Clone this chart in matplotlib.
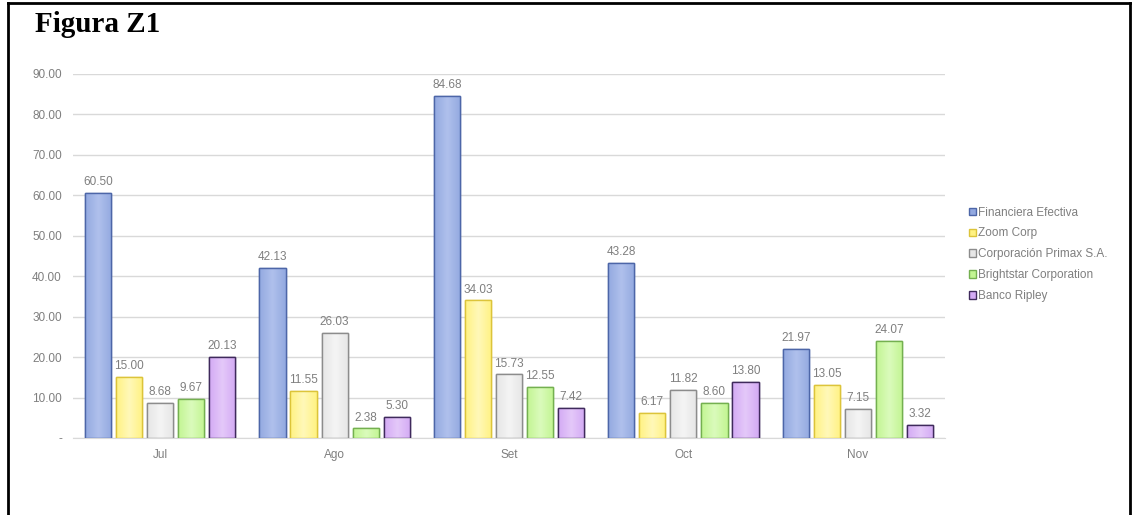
import matplotlib
matplotlib.use("Agg")
import matplotlib.pyplot as plt
from matplotlib import font_manager
from matplotlib.lines import Line2D
from matplotlib.colors import to_rgb
import numpy as np

months = ["Jul", "Ago", "Set", "Oct", "Nov"]
series_names = ["Financiera Efectiva", "Zoom Corp", "Corporación Primax S.A.",
                "Brightstar Corporation", "Banco Ripley"]
financiera = [60.50, 42.13, 84.68, 43.28, 21.97]
zoom_corp = [15.00, 11.55, 34.03, 6.17, 13.05]
primax = [8.68, 26.03, 15.73, 11.82, 7.15]
brightstar = [9.67, 2.38, 12.55, 8.60, 24.07]
ripley = [20.13, 5.30, 7.42, 13.80, 3.32]
y_ticks = [0, 10, 20, 30, 40, 50, 60, 70, 80, 90]

series = [financiera, zoom_corp, primax, brightstar, ripley]
fills = ["#93A9E0", "#FFF282", "#E6E6E6", "#C2F592", "#D3AAF4"]
lights = ["#AFC0EC", "#FFF8B8", "#F4F4F4", "#DAFBBB", "#E4C8F9"]
edges = ["#4D66A8", "#DCC43A", "#8C8C8C", "#74B050", "#3F2A5C"]

names = {f.name for f in font_manager.fontManager.ttflist}
narrow = "Liberation Sans Narrow" if "Liberation Sans Narrow" in names else "Liberation Sans"
grey = "#7F7F7F"

fig = plt.figure(figsize=(11.35, 5.15), dpi=100)
ax = fig.add_axes([73/1135, 1-438/515, (945-73)/1135, (438-74)/515])

x = np.arange(len(months))
step = 0.178
width = 0.15
prof = np.concatenate([np.linspace(0, 1, 32), np.linspace(1, 0, 32)])
for i, (vals, fc, lc, ec, nm) in enumerate(zip(series, fills, lights, edges, series_names)):
    pos = x + (i - 2) * step
    bars = ax.bar(pos, vals, width=width, color=fc, edgecolor=ec, linewidth=1.0,
                  label=nm, zorder=3)
    c0 = np.array(to_rgb(fc))
    c1 = np.array(to_rgb(lc))
    grad = (c0[None, :] * (1 - prof[:, None]) + c1[None, :] * prof[:, None])[None, :, :]
    for b, px, v in zip(bars, pos, vals):
        im = ax.imshow(grad, extent=[px - width/2, px + width/2, 0, v], aspect="auto",
                       zorder=3.5, interpolation="bilinear")
        im.set_clip_path(b)
        ax.bar(px, v, width=width, color="none", edgecolor=ec, linewidth=1.0, zorder=3.6)
        ax.text(px, v + 1.2, f"{v:.2f}", ha="center", va="bottom", fontsize=8.5,
                color=grey, family=narrow, zorder=4)

ax.set_xlim(-0.5, 4.5)
ax.set_ylim(0, 90)
ax.set_yticks(y_ticks)
ax.set_yticklabels(["-" if t == 0 else f"{t:.2f}" for t in y_ticks])
ax.set_xticks(x)
ax.set_xticklabels(months)
ax.tick_params(length=0, colors=grey, labelsize=8.5)
ax.tick_params(axis="x", pad=8)
ax.tick_params(axis="y", pad=8)
for lab in ax.get_xticklabels() + ax.get_yticklabels():
    lab.set_family(narrow)
ax.grid(axis="y", color="#D9D9D9", linewidth=1.0, zorder=0)
for s in ["top", "right", "left"]:
    ax.spines[s].set_visible(False)
ax.spines["bottom"].set_color("#D9D9D9")

leg = fig.legend(loc="upper left", bbox_to_anchor=(958/1135, 1-196/515), frameon=False,
                 fontsize=8.5, handlelength=0.6, handleheight=0.6, handletextpad=0.2,
                 labelspacing=0.75, prop={"family": narrow, "size": 8.5})
for t in leg.get_texts():
    t.set_color(grey)

fig.text(35/1135, 1-24/515, "Figura Z1", fontsize=21, fontweight="bold",
         family="Liberation Serif", va="center", ha="left")

# frame border
fig.add_artist(Line2D([8/1135, 8/1135], [0, 1-3/515], transform=fig.transFigure, color="black", lw=2))
fig.add_artist(Line2D([8/1135, 1130/1135], [1-3/515, 1-3/515], transform=fig.transFigure, color="black", lw=2))
fig.add_artist(Line2D([1130/1135, 1130/1135], [0, 1-3/515], transform=fig.transFigure, color="black", lw=2))

fig.savefig("out.png", dpi=100)
